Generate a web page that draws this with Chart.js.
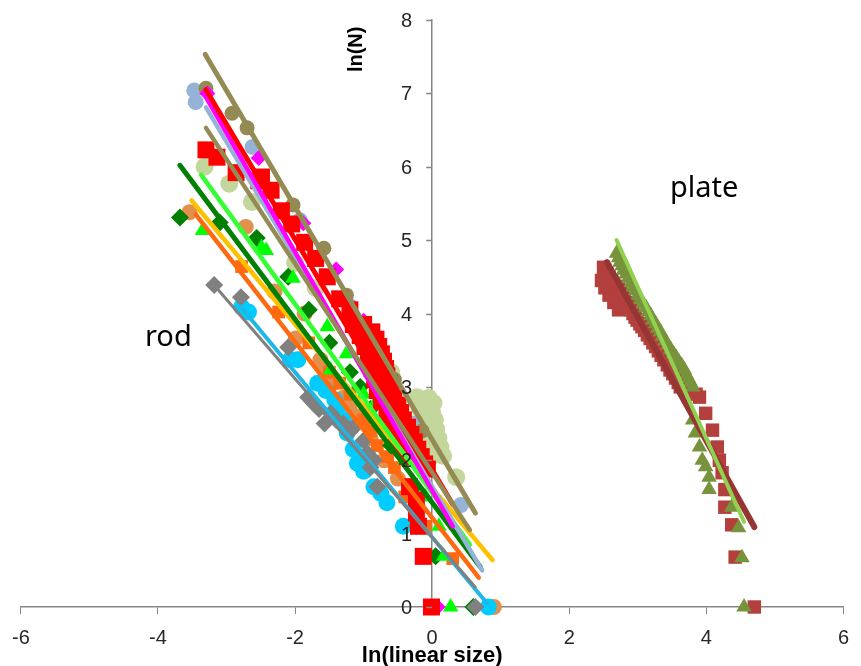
<!DOCTYPE html>
<html>
<head>
<meta charset="utf-8">
<script src="https://cdn.jsdelivr.net/npm/chart.js@4.4.1/dist/chart.umd.min.js"></script>
<style>
  html, body { margin: 0; padding: 0; background: #fff; }
  #wrap { width: 861px; height: 666px; }
</style>
</head>
<body>
<div id="wrap"><canvas id="chart"></canvas></div>
<script>
// ---- axis ticks ----
const xTicks = [-6, -4, -2, 0, 2, 4, 6];
const yTicks = [0, 1, 2, 3, 4, 5, 6, 7, 8];

// ---- rod series (markers) ----
const tanX = [-3.30, -2.92, -2.70, -2.03, -1.58, -1.25, -0.90, -0.55, -0.15, 0.85];
const tanY = [7.07, 6.73, 6.53, 5.48, 4.89, 4.25, 3.70, 3.10, 2.40, 0.00];

const blueGreyX = [-3.47, -3.45, -2.62, -1.93, -1.20, -0.70, -0.30, 0.42];
const blueGreyY = [7.04, 6.88, 6.27, 5.27, 4.10, 3.30, 2.50, 1.39];

const magentaX = [-3.28, -2.53, -1.88, -1.40, -1.00, -0.70, -0.45, -0.25, 0.06, 0.08];
const magentaY = [7.00, 6.12, 5.23, 4.60, 3.90, 3.30, 2.70, 2.20, 0.69, 0.00];

const redX = [-3.30, -3.14, -2.86, -2.53, -2.49, -2.35, -2.20, -2.05, -1.86, -1.70, -1.53, -1.35, -1.20,
  -1.00, -0.88, -0.82, -0.78, -0.74, -0.71, -0.68, -0.66, -0.63, -0.60, -0.56,
  -0.50, -0.46, -0.42, -0.36, -0.31, -0.26, -0.21, -0.16, -0.11, -0.07,
  -1.15, -1.05, -0.98, -0.93, -0.88, -0.84, -0.80, -0.74, -0.66, -0.60, -0.52, -0.44, -0.36,
  -0.33, -0.23, -0.23, -0.20, -0.13, -0.01];
const redY = [6.23, 6.13, 5.92, 5.81, 5.86, 5.68, 5.40, 5.22, 4.97, 4.75, 4.50, 4.20, 4.05,
  3.85, 3.75, 3.65, 3.55, 3.45, 3.35, 3.25, 3.15, 3.05, 2.95, 2.85,
  2.75, 2.65, 2.55, 2.45, 2.35, 2.25, 2.15, 2.05, 1.95, 1.88,
  3.85, 3.70, 3.55, 3.40, 3.25, 3.10, 2.95, 2.80, 2.65, 2.50, 2.35, 2.20, 2.05,
  1.64, 1.46, 1.28, 1.10, 0.69, 0.00];

const sageX = [-3.32, -2.96, -2.63, -2.00, -1.70, -1.09, -0.60,
  -0.22, -0.05, 0.02, -0.18, 0.00, -0.15, 0.04, -0.12, 0.06, -0.08, 0.09, -0.05, 0.12, 0.00, 0.16, 0.35];
const sageY = [6.00, 5.77, 5.52, 4.69, 4.35, 3.87, 3.20,
  2.86, 2.85, 2.78, 2.70, 2.65, 2.55, 2.55, 2.42, 2.42, 2.30, 2.30, 2.18, 2.18, 2.06, 2.06, 1.77];

const darkGreenX = [-3.68, -3.10, -2.56, -2.10, -1.80, -1.50, -1.20, -1.05, -0.90, -0.60, -0.30, 0.05, 0.60];
const darkGreenY = [5.31, 5.24, 5.03, 4.50, 4.05, 3.60, 3.20, 3.00, 2.70, 2.20, 1.60, 0.69, 0.00];

const greenX = [-3.35, -2.49, -2.42, -2.03, -1.53, -1.48, -1.25, -1.00, -0.85, -0.70, -0.40, -0.10, 0.10, 0.17, 0.27];
const greenY = [5.13, 4.90, 4.86, 4.48, 3.82, 3.23, 3.45, 2.90, 2.75, 2.50, 2.00, 1.50, 1.10, 0.69, 0.00];

const orangeCircleX = [-3.54, -2.72, -2.30, -1.86, -1.99, -1.63, -1.57, -1.45, -1.30, -1.20, -1.10, -0.90, -0.70, -0.50, 0.90];
const orangeCircleY = [5.38, 5.18, 4.30, 4.00, 3.66, 3.37, 3.27, 3.05, 2.85, 2.75, 2.60, 2.30, 2.00, 1.75, 0.00];

const orangeSqX = [-2.78, -2.24, -1.80, -1.50, -1.35, -1.20, -1.00, -0.90, -0.80, -0.65, -0.55, -0.40, -0.10, 0.30];
const orangeSqY = [4.64, 4.02, 3.60, 3.20, 3.05, 2.90, 2.55, 2.40, 2.20, 2.05, 1.90, 1.50, 1.10, 0.66];

const grayX = [-3.18, -2.79, -2.10, -1.81, -1.75, -1.70, -1.65, -1.57, -1.48, -1.40, -1.30, -1.20, -1.14,
  -1.00, -0.95, -0.90, -0.85, -0.80, -0.23, 0.63];
const grayY = [4.39, 4.22, 3.54, 2.86, 2.80, 2.75, 2.70, 2.50, 2.64, 2.55, 2.50, 2.40, 2.45,
  2.27, 2.10, 1.90, 2.00, 1.64, 1.10, 0.00];

const cyanX = [-2.78, -2.68, -2.07, -1.96, -1.67, -1.55, -1.42, -1.38, -1.30, -1.24, -1.15, -1.09, -1.00,
  -0.85, -0.75, -0.66, -0.42, 0.82];
const cyanY = [4.09, 4.02, 3.37, 3.37, 3.05, 2.95, 2.82, 2.72, 2.55, 2.37, 2.15, 1.96, 1.85,
  1.64, 1.55, 1.42, 1.10, 0.00];

// ---- plate series (markers) ----
const plateSqX = [2.50, 2.52, 2.55, 2.58, 2.62, 2.65, 2.68, 2.72, 2.75, 2.78, 2.80, 2.84, 2.87, 2.90,
  2.93, 2.96, 2.99, 3.03, 3.06, 3.10, 3.14, 3.18, 3.22, 3.26, 3.30, 3.34, 3.38, 3.43, 3.47, 3.51,
  3.55, 3.59, 3.62, 3.72, 3.85, 2.47, 2.52, 2.58, 2.65, 2.72,
  3.90, 3.99, 4.09, 4.16, 4.19, 4.23, 4.27, 4.27, 4.37, 4.42, 4.70];
const plateSqY = [4.63, 4.59, 4.55, 4.50, 4.45, 4.41, 4.37, 4.33, 4.28, 4.24, 4.20, 4.15, 4.10, 4.05,
  4.00, 3.95, 3.91, 3.86, 3.82, 3.77, 3.71, 3.66, 3.60, 3.55, 3.49, 3.43, 3.37, 3.30, 3.23, 3.18,
  3.12, 3.06, 3.00, 2.95, 2.90, 4.45, 4.35, 4.25, 4.15, 4.05,
  2.86, 2.64, 2.41, 2.18, 2.00, 1.83, 1.60, 1.36, 1.12, 0.68, 0.00];

const plateTriX = [2.69, 2.72, 2.74, 2.77, 2.79, 2.83, 2.86, 2.90, 2.93, 2.97, 3.00, 3.04, 3.08, 3.12,
  3.15, 3.19, 3.22, 3.26, 3.29, 3.33, 3.36, 3.40, 3.44, 3.48, 3.52, 3.56, 3.60, 3.64, 3.68, 3.71,
  3.74, 3.77, 3.80, 3.80, 3.84, 3.90, 3.94, 3.99, 4.04, 4.04, 4.37, 4.47, 4.52, 4.55];
const plateTriY = [4.82, 4.76, 4.70, 4.65, 4.59, 4.54, 4.48, 4.42, 4.36, 4.31, 4.25, 4.19, 4.13, 4.08,
  4.02, 3.97, 3.91, 3.86, 3.80, 3.75, 3.69, 3.63, 3.57, 3.51, 3.45, 3.40, 3.34, 3.29, 3.23, 3.17,
  3.11, 3.06, 3.00, 2.55, 2.37, 2.18, 2.00, 1.91, 1.77, 1.60, 1.36, 1.08, 0.67, 0.00];

// ---- trendlines (end points) ----
const tanFitX = [-3.31, 0.63];        const tanFitY = [7.53, 1.28];
const tan2FitX = [-3.30, 0.55];       const tan2FitY = [6.53, 1.05];
const blueGreyFitX = [-3.30, 0.73];   const blueGreyFitY = [6.81, 0.50];
const redFitX = [-3.30, 0.30];        const redFitY = [7.05, 1.40];
const magentaFitX = [-3.30, 0.30];    const magentaFitY = [6.95, 1.10];
const darkGreenFitX = [-3.68, 0.70];  const darkGreenFitY = [6.02, 0.55];
const limeFitX = [-3.37, 0.55];       const limeFitY = [5.89, 0.85];
const yellowFitX = [-3.51, 0.88];     const yellowFitY = [5.54, 0.64];
const orangeFitX = [-3.45, 0.68];     const orangeFitY = [5.35, 0.40];
const grayFitX = [-3.22, 0.63];       const grayFitY = [4.43, 0.27];
const cyanFitX = [-2.80, 0.80];       const cyanFitY = [4.10, 0.05];
const plateSqFitX = [2.55, 4.70];     const plateSqFitY = [4.70, 1.09];
const plateTriFitX = [2.69, 4.55];    const plateTriFitY = [5.00, 1.16];

function toPoints(xs, ys) {
    return xs.map((x, i) => ({ x: x, y: ys[i] }));
}

function markers(label, xs, ys, style, radius, color) {
    return {
        label: label,
        data: toPoints(xs, ys),
        pointStyle: style,
        pointRadius: radius,
        pointBackgroundColor: color,
        pointBorderColor: color,
        pointBorderWidth: 0,
        showLine: false,
        clip: false
    };
}

function fit(label, xs, ys, color, width) {
    return {
        label: label,
        data: toPoints(xs, ys),
        showLine: true,
        borderColor: color,
        borderWidth: width,
        borderCapStyle: 'round',
        pointRadius: 0,
        clip: false
    };
}

// bottom to top
const layers = [
    markers('sage', sageX, sageY, 'circle', 9, '#C3D69B'),
    markers('blueGrey', blueGreyX, blueGreyY, 'circle', 8, '#95B3D7'),
    markers('tan', tanX, tanY, 'circle', 7.5, '#948A54'),
    markers('magenta', magentaX, magentaY, 'rectRot', 8, '#FF00FF'),
    markers('orangeCircle', orangeCircleX, orangeCircleY, 'circle', 8, '#E3904E'),
    markers('orangeSq', orangeSqX, orangeSqY, 'rect', 9, '#FF6A10'),
    markers('darkGreen', darkGreenX, darkGreenY, 'rectRot', 9, '#008000'),
    markers('green', greenX, greenY, 'triangle', 9, '#00FF00'),
    markers('cyan', cyanX, cyanY, 'circle', 8.5, '#00CCFF'),
    markers('gray', grayX, grayY, 'rectRot', 9, '#808080'),
    markers('red', redX, redY, 'rect', 12, '#FF0000'),
    markers('plateSq', plateSqX, plateSqY, 'rect', 9.5, '#B3403D'),
    markers('plateTri', plateTriX, plateTriY, 'triangle', 9, '#77933C'),
    fit('cyanFit', cyanFitX, cyanFitY, '#1CB8E8', 4),
    fit('grayFit', grayFitX, grayFitY, '#808080', 3),
    fit('orangeFit', orangeFitX, orangeFitY, '#FF6A10', 4.5),
    fit('yellowFit', yellowFitX, yellowFitY, '#FFC000', 4.5),
    fit('darkGreenFit', darkGreenFitX, darkGreenFitY, '#008000', 5),
    fit('limeFit', limeFitX, limeFitY, '#33FF33', 4.5),
    fit('blueGreyFit', blueGreyFitX, blueGreyFitY, '#95B3D7', 4.5),
    fit('magentaFit', magentaFitX, magentaFitY, '#FF00FF', 4.5),
    fit('redFit', redFitX, redFitY, '#FF0000', 5),
    fit('tan2Fit', tan2FitX, tan2FitY, '#948A54', 4.5),
    fit('tanFit', tanFitX, tanFitY, '#948A54', 5),
    fit('plateSqFit', plateSqFitX, plateSqFitY, '#963634', 6),
    fit('plateTriFit', plateTriFitX, plateTriFitY, '#92D050', 4)
];
layers.forEach((d, i) => { d.order = layers.length - i; });

const axisGrey = '#868686';
const labelColor = '#262626';

// y axis sits at x = 0, so its ticks and labels are drawn here
const yAxisLabels = {
    id: 'yAxisLabels',
    afterDraw(chart) {
        const ctx = chart.ctx;
        const xs = chart.scales.x;
        const ys = chart.scales.y;
        const x0 = xs.getPixelForValue(0);
        ctx.save();
        ctx.strokeStyle = axisGrey;
        ctx.lineWidth = 1.5;
        ctx.fillStyle = labelColor;
        ctx.font = '20px "Liberation Sans", Arial, sans-serif';
        ctx.textAlign = 'right';
        ctx.textBaseline = 'middle';
        yTicks.forEach(v => {
            const py = Math.round(ys.getPixelForValue(v)) + 0.5;
            ctx.beginPath();
            ctx.moveTo(x0 - 6, py);
            ctx.lineTo(x0, py);
            ctx.stroke();
            ctx.fillText(String(v), x0 - 20, py + 1);
        });
        ctx.restore();
    }
};

// Titles and the rod / plate notes
const annotations = {
    id: 'annotations',
    afterDraw(chart) {
        const ctx = chart.ctx;
        const xs = chart.scales.x;
        const ys = chart.scales.y;
        ctx.save();
        ctx.fillStyle = '#000';
        ctx.textBaseline = 'alphabetic';
        ctx.textAlign = 'left';
        ctx.font = '29px "Noto Sans"';
        ctx.fillText('rod', xs.getPixelForValue(-4.19), ys.getPixelForValue(3.56));
        ctx.fillText('plate', xs.getPixelForValue(3.47), ys.getPixelForValue(5.59));

        ctx.textAlign = 'center';
        ctx.font = 'bold 22px "Liberation Sans", Arial, sans-serif';
        ctx.fillText('ln(linear size)', xs.getPixelForValue(0), chart.height - 4);

        ctx.translate(xs.getPixelForValue(0) - 76, ys.getPixelForValue(7.6));
        ctx.rotate(-Math.PI / 2);
        ctx.textBaseline = 'middle';
        ctx.font = 'bold 20px "Liberation Sans", Arial, sans-serif';
        ctx.fillText('ln(N)', 0, 0);
        ctx.restore();
    }
};

const tickFont = { family: '"Liberation Sans", Arial, sans-serif', size: 20 };

new Chart(document.getElementById('chart'), {
    type: 'scatter',
    data: { datasets: layers },
    options: {
        responsive: true,
        maintainAspectRatio: false,
        animation: false,
        layout: { padding: { left: 20, right: 8, top: 20, bottom: 0 } },
        plugins: {
            legend: { display: false },
            tooltip: { enabled: false }
        },
        scales: {
            x: {
                type: 'linear',
                min: xTicks[0],
                max: xTicks[xTicks.length - 1],
                afterBuildTicks: s => { s.ticks = xTicks.map(v => ({ value: v })); },
                afterFit: s => { s.height = 59; },
                grid: { drawOnChartArea: false, tickLength: 7, color: axisGrey },
                border: { color: axisGrey, width: 1.5 },
                ticks: { font: tickFont, color: labelColor, padding: 12, maxRotation: 0 }
            },
            y: {
                type: 'linear',
                position: { x: 0 },
                min: yTicks[0],
                max: yTicks[yTicks.length - 1],
                afterBuildTicks: s => { s.ticks = yTicks.map(v => ({ value: v })); },
                grid: { drawOnChartArea: false, drawTicks: false },
                border: { color: axisGrey, width: 1.5 },
                ticks: { display: false }
            }
        }
    },
    plugins: [yAxisLabels, annotations]
});
</script>
</body>
</html>
